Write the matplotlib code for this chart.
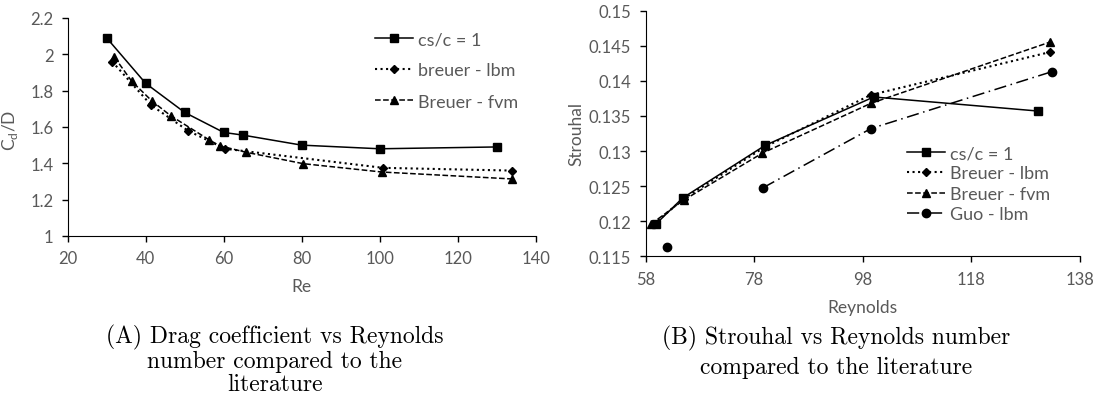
import matplotlib
matplotlib.use("Agg")
import matplotlib.pyplot as plt
from matplotlib.ticker import FuncFormatter

plt.rcParams["font.family"] = ["Lato", "DejaVu Sans"]

# drag coefficient vs Re
cs_re = [30, 40, 50, 60, 65, 80, 100, 130]
cs_cd = [2.09, 1.84, 1.68, 1.57, 1.555, 1.50, 1.48, 1.49]
lbm_re = [31.4, 41.4, 50.8, 60.4, 100.9, 133.9]
lbm_cd = [1.96, 1.72, 1.58, 1.48, 1.375, 1.36]
fvm_re = [32, 36.4, 41.5, 46.4, 56.2, 59, 65.7, 80.4, 100.6, 133.9]
fvm_cd = [1.984, 1.852, 1.745, 1.662, 1.53, 1.496, 1.461, 1.398, 1.352, 1.314]

# strouhal vs Re
cs_re2 = [59.9, 64.8, 80, 100, 130.2]
cs_st = [0.1196, 0.1233, 0.1308, 0.1377, 0.1357]
blbm_re = [59.5, 65, 80, 99.5, 132.5]
blbm_st = [0.1196, 0.1232, 0.1306, 0.1380, 0.1441]
bfvm_re = [59, 65, 79.5, 99.5, 132.4]
bfvm_st = [0.1196, 0.1230, 0.1297, 0.1368, 0.1455]
guo_re = [62, 79.7, 99.5, 132.8]
guo_st = [0.1163, 0.1248, 0.1332, 0.1413]

grey = "#595959"
fig = plt.figure(figsize=(10.99, 4.06), dpi=100)
ax1 = fig.add_axes([0.0616, 0.4163, 0.4258, 0.537])
ax2 = fig.add_axes([0.5875, 0.3663, 0.3952, 0.605])

leg_kw = dict(bbox_transform=fig.transFigure, loc="upper left", frameon=False,
              borderpad=0, borderaxespad=0, handlelength=2.1, handletextpad=0.3,
              fontsize=13, labelcolor=grey)

ax1.plot(cs_re, cs_cd, "k-", marker="s", ms=6, lw=1.1, label="cs/c = 1")
ax1.plot(lbm_re, lbm_cd, "k:", marker="D", ms=4.5, lw=1.5, label="breuer - lbm")
ax1.plot(fvm_re, fvm_cd, "k--", marker="^", ms=6, lw=1.1, label="Breuer - fvm")
ax1.set_xlim(20, 140)
ax1.set_ylim(1, 2.2)
ax1.set_xticks(range(20, 141, 20))
ax1.set_yticks([1, 1.2, 1.4, 1.6, 1.8, 2, 2.2])
ax1.set_xlabel("Re", color=grey, fontsize=12.5)
ax1.set_ylabel(r"C$_\mathregular{d}$/D", color=grey, fontsize=12.5)
ax1.xaxis.set_label_coords(0.5, -0.193)
ax1.yaxis.set_label_coords(-0.102, 0.49)
ax1.legend(bbox_to_anchor=(0.341, 0.921), labelspacing=0.85, **leg_kw)

ax2.plot(cs_re2, cs_st, "k-", marker="s", ms=6, lw=1.1, label="cs/c = 1")
ax2.plot(blbm_re, blbm_st, "k:", marker="D", ms=4.5, lw=1.5, label="Breuer - lbm")
ax2.plot(bfvm_re, bfvm_st, "k--", marker="^", ms=6, lw=1.1, label="Breuer - fvm")
# first Guo point is not joined to the rest
ax2.plot(guo_re[1:], guo_st[1:], "k", ls=(0, (8, 3, 1, 3)), marker="o", ms=6, lw=1.1, label="Guo - lbm")
ax2.plot(guo_re[:1], guo_st[:1], "ko", ms=6)
ax2.set_xlim(58, 138)
ax2.set_ylim(0.115, 0.15)
ax2.set_xticks(range(58, 139, 20))
ax2.set_yticks([0.115, 0.12, 0.125, 0.13, 0.135, 0.14, 0.145, 0.15])
ax2.set_xlabel("Reynolds", color=grey, fontsize=12.5)
ax2.set_ylabel("Strouhal", color=grey, fontsize=12.5)
ax2.xaxis.set_label_coords(0.5, -0.174)
ax2.yaxis.set_label_coords(-0.142, 0.5)
ax2.legend(bbox_to_anchor=(0.825, 0.640), labelspacing=0.24, **leg_kw)

fmt = FuncFormatter(lambda v, p: f"{v:g}")
for ax in (ax1, ax2):
    ax.spines["top"].set_visible(False)
    ax.spines["right"].set_visible(False)
    ax.xaxis.set_major_formatter(fmt)
    ax.yaxis.set_major_formatter(fmt)
    ax.tick_params(labelsize=12, labelcolor=grey, length=4.3, width=1, pad=6, direction="out")

fig.text(0.25, 0.111, "(A) Drag coefficient vs Reynolds\nnumber compared to the\nliterature",
         family="cmr10", fontsize=17, ha="center", va="center", linespacing=1.05)
fig.text(0.761, 0.131, "(B) Strouhal vs Reynolds number\ncompared to the literature",
         family="cmr10", fontsize=17, ha="center", va="center", linespacing=1.35)

fig.savefig("out.png", dpi=100)
